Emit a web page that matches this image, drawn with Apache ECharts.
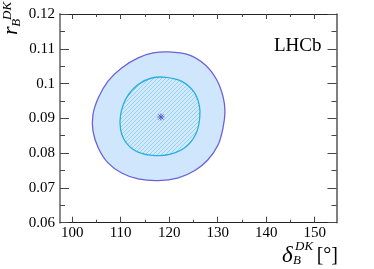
<!DOCTYPE html>
<html>
<head>
<meta charset="utf-8">
<script src="https://cdn.jsdelivr.net/npm/echarts@6/dist/echarts.min.js"></script>
<style>
html,body{margin:0;padding:0;background:#fff;}
#main{width:374px;height:269px;}
</style>
</head>
<body>
<div id="main"></div>
<script>
// outer contour, inner contour, best fit point
var outerDelta = [119.8,123.9,127.4,129.8,131.1,131.5,131.1,130.1,128.0,125.3,121.9,117.7,113.6,110.2,107.4,105.4,104.3,104.3,105.4,107.4,110.2,113.6,116.7];
var outerR = [0.1091,0.1083,0.1054,0.1011,0.0963,0.0920,0.0872,0.0824,0.0781,0.0750,0.0729,0.0721,0.0726,0.0743,0.0772,0.0815,0.0863,0.0911,0.0959,0.1007,0.1045,0.1074,0.1088];
var innerDelta = [119.4,122.5,125.0,126.2,126.3,125.6,123.6,120.5,117.1,113.6,111.2,110.0,110.0,111.2,113.6,116.4];
var innerR = [0.1018,0.1007,0.0978,0.0939,0.0901,0.0858,0.0820,0.0798,0.0793,0.0803,0.0829,0.0867,0.0911,0.0959,0.0997,0.1016];
var bestDelta = [118.3];
var bestR = [0.0904];
var xMajor = [100,110,120,130,140,150];
var xMinor = [105,115,125,135,145];

var serif = '"Liberation Serif","DejaVu Serif",serif';

// hatch pattern for inner contour
var hatch = document.createElement('canvas');
hatch.width = 4; hatch.height = 4;
var hc = hatch.getContext('2d');
hc.fillStyle = '#d4eafc';
hc.fillRect(0,0,4,4);
hc.strokeStyle = '#8ed3f3';
hc.lineWidth = 1;
hc.beginPath();
hc.moveTo(0,4); hc.lineTo(4,0);
hc.moveTo(-1,1); hc.lineTo(1,-1);
hc.moveTo(3,5); hc.lineTo(5,3);
hc.stroke();

function contour(xs, ys, style){
	return function(params, api){
		var pts = [];
		for(var i = 0; i < xs.length; i++){
			pts.push(api.coord([xs[i], ys[i]]));
		}
		return {type:'polygon', shape:{points:pts, smooth:0.33}, style:style};
	};
}

var chart = echarts.init(document.getElementById('main'));
var xBase = {type:'value', gridIndex:0, min:97.5, max:154.5, splitLine:{show:false}};
function xAxisDef(pos, vals, len, line, labels){
	return echarts.util.merge({
		position: pos,
		axisLine: {show: line, onZero:false, lineStyle:{color:'#222', width:1}},
		axisTick: {show:true, inside:true, length:len, customValues:vals, lineStyle:{color:'#444'}},
		axisLabel: labels ? {show:true, customValues:vals, margin:3, color:'#000', fontFamily:serif, fontSize:15} : {show:false}
	}, xBase, true);
}
var option = {
	animation: false,
	backgroundColor: '#fff',
	grid: {left:60, right:37.5, top:14, bottom:46.3, containLabel:false},
	xAxis: [
		xAxisDef('bottom', xMajor, 6, true, true),
		xAxisDef('bottom', xMinor, 3, false, false),
		xAxisDef('top', xMajor, 5, true, false),
		xAxisDef('top', xMinor, 3, false, false)
	],
	yAxis: [
		{
			type:'value', position:'left', min:0.06, max:0.12, interval:0.01,
			splitLine:{show:false},
			axisLine:{show:true, onZero:false, lineStyle:{color:'#8a8a8a', width:2}},
			axisTick:{inside:true, length:9, lineStyle:{color:'#444'}},
			minorTick:{show:true, splitNumber:2, length:5, lineStyle:{color:'#444'}},
			axisLabel:{margin:5, color:'#000', fontFamily:serif, fontSize:15}
		},
		{
			type:'value', position:'right', min:0.06, max:0.12, interval:0.01,
			splitLine:{show:false},
			axisLine:{show:true, onZero:false, lineStyle:{color:'#555', width:1.5}},
			axisTick:{inside:true, length:9, lineStyle:{color:'#444'}},
			minorTick:{show:true, splitNumber:2, length:5, lineStyle:{color:'#444'}},
			axisLabel:{show:false}
		}
	],
	series: [
		{
			type:'custom', xAxisIndex:0, yAxisIndex:0, silent:true, clip:true,
			data:[[outerDelta[0], outerR[0]]],
			renderItem: contour(outerDelta, outerR, {fill:'#d0e6fd', stroke:'#6b62d8', lineWidth:1.3})
		},
		{
			type:'custom', xAxisIndex:0, yAxisIndex:0, silent:true, clip:true,
			data:[[innerDelta[0], innerR[0]]],
			renderItem: contour(innerDelta, innerR, {fill:{image:hatch, repeat:'repeat'}, stroke:'#2aaee0', lineWidth:1.3})
		},
		{
			type:'custom', xAxisIndex:0, yAxisIndex:0, silent:true,
			data:[[bestDelta[0], bestR[0]]],
			renderItem: function(params, api){
				var p = api.coord([api.value(0), api.value(1)]);
				var s = 3.5, d = 2.6, st = {stroke:'#5a55d6', lineWidth:1};
				return {type:'group', children:[
					{type:'line', shape:{x1:p[0]-s, y1:p[1], x2:p[0]+s, y2:p[1]}, style:st},
					{type:'line', shape:{x1:p[0], y1:p[1]-s, x2:p[0], y2:p[1]+s}, style:st},
					{type:'line', shape:{x1:p[0]-d, y1:p[1]-d, x2:p[0]+d, y2:p[1]+d}, style:st},
					{type:'line', shape:{x1:p[0]-d, y1:p[1]+d, x2:p[0]+d, y2:p[1]-d}, style:st}
				]};
			}
		}
	],
	graphic: [
		{type:'text', left:274, top:37, style:{text:'LHCb', fill:'#000', font:'19px ' + serif}},
		// x axis title
		{type:'text', x:282, y:255.5, style:{text:'δ', fill:'#000', font:'italic 23px ' + serif, textVerticalAlign:'middle'}},
		{type:'text', x:295, y:247, style:{text:'DK', fill:'#000', font:'italic 13px ' + serif, textVerticalAlign:'middle'}},
		{type:'text', x:293, y:261, style:{text:'B', fill:'#000', font:'italic 13px ' + serif, textVerticalAlign:'middle'}},
		{type:'text', x:338, y:255.5, style:{text:'[°]', fill:'#000', font:'20px ' + serif, textAlign:'right', textVerticalAlign:'middle'}},
		// y axis title, rotated
		{type:'group', x:18.3, y:35, rotation:Math.PI/2, children:[
			{type:'text', x:0, y:-7, style:{text:'r', fill:'#000', font:'italic 22px ' + serif, textVerticalAlign:'middle'}},
			{type:'text', x:8.3, y:-1.5, style:{text:'B', fill:'#000', font:'italic 13px ' + serif, textVerticalAlign:'middle'}},
			{type:'text', x:15, y:-10.8, style:{text:'DK', fill:'#000', font:'italic 13px ' + serif, textVerticalAlign:'middle'}}
		]}
	]
};
chart.setOption(option);
</script>
</body>
</html>
